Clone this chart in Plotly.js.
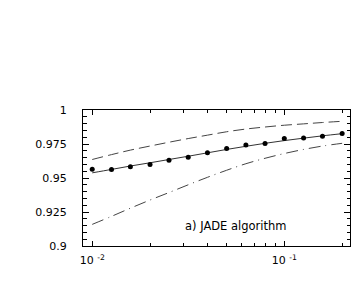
<!DOCTYPE html>
<html>
<head>
<meta charset="utf-8">
<script src="https://cdn.plot.ly/plotly-3.0.1.min.js"></script>
<style>html,body{margin:0;padding:0;background:#fff;}#chart{width:360px;height:294px;}</style>
</head>
<body>
<div id="chart"></div>
<script>
// Data
const xVals = [0.01, 0.0126, 0.0158, 0.02, 0.0251, 0.0316, 0.0398, 0.0501, 0.0631, 0.0794, 0.1, 0.126, 0.158, 0.2];
const measured = [0.9565, 0.9563, 0.9582, 0.9600, 0.9630, 0.9653, 0.9685, 0.9717, 0.9743, 0.9753, 0.9790, 0.9795, 0.9807, 0.9827];
const fitLine = [0.9538, 0.9563, 0.9588, 0.9612, 0.9636, 0.9660, 0.9685, 0.9710, 0.9733, 0.9755, 0.9775, 0.9793, 0.9810, 0.9826];
const upperLine = [0.9636, 0.9672, 0.9705, 0.9735, 0.9763, 0.9790, 0.9815, 0.9840, 0.9860, 0.9875, 0.9888, 0.9898, 0.9908, 0.9917];
const lowerLine = [0.9159, 0.9218, 0.9278, 0.9338, 0.9393, 0.9450, 0.9505, 0.9557, 0.9605, 0.9645, 0.9680, 0.9710, 0.9735, 0.9755];

const xTickVals = [0.01, 0.1];
const xTickText = ['10 <sup>-2</sup>', '10 <sup>-1</sup>'];
const xMinorVals = [0.02, 0.03, 0.04, 0.05, 0.06, 0.07, 0.08, 0.09, 0.2];
const yTickVals = [0.9, 0.925, 0.95, 0.975, 1];
const yTickText = ['0.9', '0.925', '0.95', '0.975', '1'];
const panelLabel = 'a) JADE algorithm';

const traces = [
  {x: xVals, y: upperLine, mode: 'lines', line: {color: '#444', width: 1, dash: '11px,5px', shape: 'spline'}, hoverinfo: 'skip'},
  {x: xVals, y: lowerLine, mode: 'lines', line: {color: '#444', width: 1, dash: '12px,5px,1px,5px', shape: 'spline'}, hoverinfo: 'skip'},
  {x: xVals, y: fitLine, mode: 'lines', line: {color: '#333', width: 1, shape: 'spline'}, hoverinfo: 'skip'},
  {x: xVals, y: measured, mode: 'markers', marker: {color: '#000', size: 5}}
];

const layout = {
  width: 360, height: 294,
  margin: {l: 83, r: 10, t: 110, b: 48},
  paper_bgcolor: '#fff', plot_bgcolor: '#fff',
  showlegend: false,
  font: {family: 'DejaVu Sans, Arial, sans-serif', size: 11, color: '#000'},
  xaxis: {
    type: 'log', range: [-2.048, -0.658],
    tickmode: 'array', tickvals: xTickVals, ticktext: xTickText,
    ticks: 'inside', ticklen: 5, tickwidth: 1, tickcolor: '#000',
    minor: {tickmode: 'array', tickvals: xMinorVals, ticks: 'inside', ticklen: 3, tickwidth: 1, tickcolor: '#000', showgrid: false},
    showline: true, linecolor: '#000', linewidth: 1, mirror: 'ticks',
    showgrid: false, zeroline: false, ticklabelstandoff: 4,
    tickfont: {size: 11}
  },
  yaxis: {
    range: [0.9, 1],
    tickmode: 'array', tickvals: yTickVals, ticktext: yTickText,
    ticks: 'inside', ticklen: 6, tickwidth: 1, tickcolor: '#000',
    minor: {dtick: 0.005, ticks: 'inside', ticklen: 3.5, tickwidth: 1, tickcolor: '#000', showgrid: false},
    showline: true, linecolor: '#000', linewidth: 1, mirror: 'ticks',
    showgrid: false, zeroline: false, ticklabelstandoff: 13,
    tickfont: {size: 11}
  },
  annotations: [{
    text: panelLabel, xref: 'paper', yref: 'paper', x: 0.573, y: 0.149,
    xanchor: 'center', yanchor: 'middle', showarrow: false,
    font: {size: 11.5, color: '#000'}
  }]
};

Plotly.newPlot('chart', traces, layout, {displayModeBar: false, staticPlot: true});
</script>
</body>
</html>
